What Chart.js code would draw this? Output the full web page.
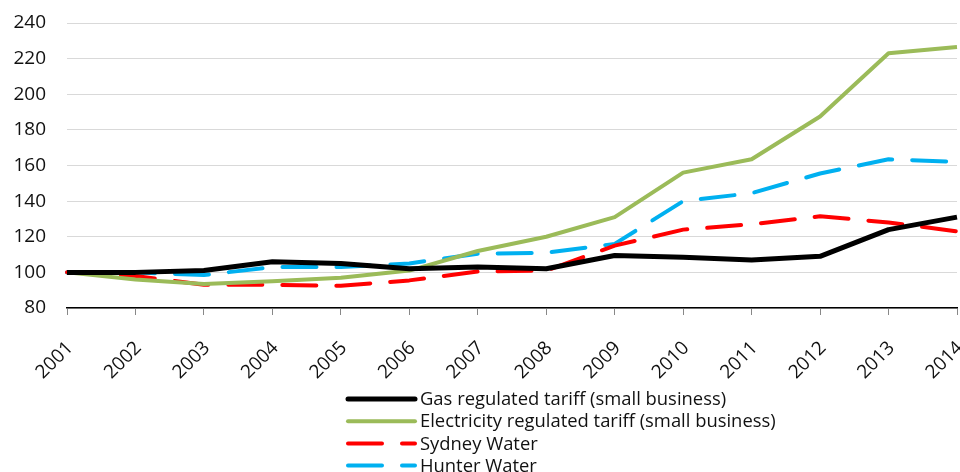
<!DOCTYPE html>
<html>
<head>
<meta charset="utf-8">
<script src="https://cdn.jsdelivr.net/npm/chart.js@4.4.1/dist/chart.umd.min.js"></script>
<style>
  html, body { margin: 0; padding: 0; background: #fff; }
  #wrap { width: 960px; height: 472px; position: relative; }
</style>
</head>
<body>
<div id="wrap"><canvas id="tariffChart"></canvas></div>
<script>
const years = ["2001", "2002", "2003", "2004", "2005", "2006", "2007", "2008", "2009", "2010", "2011", "2012", "2013", "2014"];

const gasTariff = [100, 100, 101, 106, 105, 102, 103, 102, 109.5, 108.5, 107, 109, 124, 131];
const electricityTariff = [100, 96, 93.5, 95, 97, 101, 112, 120, 131, 156, 163.5, 187.5, 223, 226.5];
const sydneyWater = [100, 98, 93, 93, 92.5, 95.5, 100.5, 101, 115, 124, 127, 131.5, 128, 123];
const hunterWater = [100, 100, 98.5, 103, 103, 105, 110.5, 111, 116, 140, 144.5, 155.5, 163.5, 162];

const yTicks = [80, 100, 120, 140, 160, 180, 200, 220, 240];

const fontFamily = "'Open Sans', 'Noto Sans', sans-serif";

// legend drawn as a single column under the axis
const columnLegend = {
  id: "columnLegend",
  afterDraw(chart) {
    const ctx = chart.ctx;
    const x0 = 348, x1 = 415, textX = 420;
    let y = 399;
    ctx.save();
    chart.data.datasets.forEach((ds) => {
      ctx.beginPath();
      ctx.lineWidth = ds.borderWidth;
      ctx.strokeStyle = ds.borderColor;
      ctx.lineCap = "round";
      ctx.setLineDash(ds.borderDash || []);
      ctx.moveTo(x0, y);
      ctx.lineTo(x1, y);
      ctx.stroke();
      ctx.setLineDash([]);
      ctx.fillStyle = "#111";
      ctx.font = "18.4px " + fontFamily;
      ctx.textAlign = "left";
      ctx.textBaseline = "middle";
      ctx.fillText(ds.label, textX, y + 1);
      y += 22.2;
    });
    ctx.restore();
  },
};

new Chart(document.getElementById("tariffChart"), {
  type: "line",
  plugins: [columnLegend],
  data: {
    labels: years,
    datasets: [
      {
        label: "Gas regulated tariff (small business)",
        data: gasTariff,
        borderColor: "#000000",
        borderWidth: 5,
        borderJoinStyle: "round",
      },
      {
        label: "Electricity regulated tariff (small business)",
        data: electricityTariff,
        borderColor: "#9bbb59",
        borderWidth: 4,
        borderJoinStyle: "round",
      },
      {
        label: "Sydney Water",
        data: sydneyWater,
        borderColor: "#ff0000",
        borderWidth: 4,
        borderDash: [34, 20],
        borderCapStyle: "round",
        borderJoinStyle: "round",
      },
      {
        label: "Hunter Water",
        data: hunterWater,
        borderColor: "#00b0f0",
        borderWidth: 4,
        borderDash: [34, 20],
        borderCapStyle: "round",
        borderJoinStyle: "round",
      },
    ],
  },
  options: {
    responsive: true,
    maintainAspectRatio: false,
    animation: false,
    elements: { point: { radius: 0 }, line: { tension: 0 } },
    layout: { padding: { top: 23, right: 3, left: 0, bottom: 90 } },
    plugins: {
      legend: { display: false },
      tooltip: { enabled: false },
    },
    scales: {
      x: {
        offset: false,
        border: { display: true, color: "#000", width: 1.5 },
        grid: {
          drawOnChartArea: false,
          drawTicks: true,
          tickLength: 7,
          tickColor: "#888",
        },
        ticks: {
          minRotation: 45,
          maxRotation: 45,
          padding: 22,
          labelOffset: 3,
          color: "#111",
          font: { family: fontFamily, size: 19 },
        },
        afterFit(scale) {
          scale.height = 74;
          scale.paddingLeft = 0;
          scale.paddingRight = 0;
        },
      },
      y: {
        min: 80,
        max: 240,
        border: { display: false },
        grid: { color: "#d9d9d9", lineWidth: 1, drawTicks: false },
        afterBuildTicks(scale) {
          scale.ticks = yTicks.map((v) => ({ value: v }));
        },
        ticks: {
          padding: 21,
          color: "#111",
          font: { family: fontFamily, size: 19 },
        },
        afterFit(scale) {
          scale.width = 67;
          scale.paddingTop = 0;
          scale.paddingBottom = 0;
        },
      },
    },
  },
});
</script>
</body>
</html>
